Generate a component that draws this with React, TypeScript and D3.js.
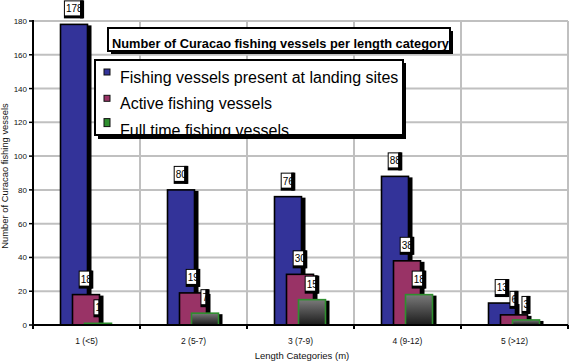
import * as d3 from "d3";
import * as React from "react";

// chart data
const categories = ["1 (<5)", "2 (5-7)", "3 (7-9)", "4 (9-12)", "5 (>12)"];
const presentValues = [178, 80, 76, 88, 13];
const activeValues = [18, 19, 30, 38, 6];
const fullTimeValues = [1, 7, 15, 18, 3];
const seriesNames = [
  "Fishing vessels present at landing sites",
  "Active fishing vessels",
  "Full time fishing vessels",
];
const yTicks = [0, 20, 40, 60, 80, 100, 120, 140, 160, 180];

const chartTitle = "Number of Curacao fishing vessels per length category";
const xTitle = "Length Categories (m)";
const yTitle = "Number of Curacao fishing vessels";

const W = 570;
const H = 362;
const left = 33;
const right = 568;
const top = 21;
const bottom = 325;
const barWidth = 27;
const font = "Arial, 'Liberation Sans', sans-serif";
const blue = "#333399";
const maroon = "#993366";
const green = "#2f8f2f";

export default function App() {
  const x = d3.scaleBand<string>().domain(categories).range([left, right]);
  const y = d3.scaleLinear().domain([0, 180]).range([bottom, top]);
  // sub positions of the three overlapping bars inside a category
  const sub = d3.scaleBand<string>().domain(seriesNames).range([-26, 10]);

  const series = [
    { name: seriesNames[0], values: presentValues, fill: blue, stroke: "#000" },
    { name: seriesNames[1], values: activeValues, fill: maroon, stroke: "#000" },
    { name: seriesNames[2], values: fullTimeValues, fill: "url(#ftGrad)", stroke: green },
  ];

  const barLeft = (cat: string, s: string) =>
    x(cat)! + x.bandwidth() / 2 + sub(s)!;

  const dividers = categories.map((c) => x(c)! + x.bandwidth());

  return (
    <svg
      width={W}
      height={H}
      style={{ position: "absolute", left: 0, top: 0, background: "#fff" }}
      fontFamily={font}
    >
      <defs>
        <linearGradient id="ftGrad" x1="0" y1="0" x2="0" y2="1">
          <stop offset="0" stopColor="#7a7a7a" />
          <stop offset="1" stopColor="#1c1c1c" />
        </linearGradient>
        <clipPath id="legendClip">
          <rect x={96} y={61} width={307} height={73} />
        </clipPath>
      </defs>

      {/* gridlines */}
      {yTicks.map((t) => (
        <line key={"h" + t} x1={left} x2={right} y1={y(t)} y2={y(t)} stroke="#c0c0c0" strokeWidth={2} />
      ))}
      {dividers.map((d, i) => (
        <line key={"v" + i} x1={d} x2={d} y1={top} y2={bottom} stroke="#c0c0c0" strokeWidth={2} />
      ))}

      {/* bars */}
      {series.map((s) =>
        categories.map((c, i) => {
          const bx = barLeft(c, s.name);
          const by = y(s.values[i]);
          const h = bottom - by;
          return (
            <g key={s.name + c}>
              <rect x={bx + 4} y={by + 1} width={barWidth} height={Math.max(0, h - 1)} fill="#000" />
              <rect x={bx} y={by} width={barWidth} height={h} fill={s.fill} stroke={s.stroke} strokeWidth={1.6} />
            </g>
          );
        })
      )}

      {/* axes */}
      <line x1={left} x2={left} y1={top - 1} y2={bottom + 1} stroke="#000" strokeWidth={2} />
      <line x1={left - 1} x2={right} y1={bottom} y2={bottom} stroke="#000" strokeWidth={2} />
      {yTicks.map((t) => (
        <g key={"yt" + t}>
          <line x1={left - 4} x2={left} y1={y(t)} y2={y(t)} stroke="#000" strokeWidth={1.5} />
          <text x={27} y={y(t) + 3} fontSize={8} textAnchor="end" fill="#111">
            {t}
          </text>
        </g>
      ))}
      {[left, ...dividers].map((d, i) => (
        <line key={"xt" + i} x1={d} x2={d} y1={bottom} y2={bottom + 4} stroke="#000" strokeWidth={2} />
      ))}
      {categories.map((c) => (
        <text key={"xl" + c} x={x(c)! + x.bandwidth() / 2} y={344} fontSize={8.5} textAnchor="middle" fill="#111">
          {c}
        </text>
      ))}
      <text x={302} y={358.5} fontSize={9.5} textAnchor="middle" fill="#111">
        {xTitle}
      </text>
      <text
        transform={`translate(8, ${(top + bottom) / 2 + 3}) rotate(-90)`}
        fontSize={9.4}
        textAnchor="middle"
        fill="#111"
      >
        {yTitle}
      </text>

      {/* data labels */}
      {series.map((s) =>
        categories.map((c, i) => {
          const v = s.values[i];
          const txt = String(v);
          const bw = txt.length * 5.56 - 1.5;
          const bh = 14;
          const lx = barLeft(c, s.name) + 12 - bw / 2;
          const ly = y(v) - 23;
          return (
            <g key={"lb" + s.name + c}>
              <rect x={lx - 1} y={ly - 1} width={bw + 5} height={bh + 4} fill="#000" />
              <rect x={lx} y={ly} width={bw} height={bh} fill="#fff" />
              <text x={lx + 1} y={ly + 11} fontSize={10} fill="#000">
                {txt}
              </text>
              <rect x={lx + bw} y={ly - 1} width={3} height={bh + 4} fill="#000" />
            </g>
          );
        })
      )}

      {/* title box */}
      <rect x={111} y={31} width={342} height={23} fill="#000" />
      <rect x={108} y={28} width={342} height={23} fill="#fff" stroke="#000" strokeWidth={2} />
      <text x={112} y={47.5} fontSize={13} fontWeight="bold" textLength={337} lengthAdjust="spacingAndGlyphs" fill="#000">
        {chartTitle}
      </text>

      {/* legend */}
      <rect x={98} y={63} width={308} height={76} fill="#000" />
      <rect x={95} y={60} width={308} height={75} fill="#fff" stroke="#000" strokeWidth={2} />
      <g clipPath="url(#legendClip)">
        {series.map((s, i) => {
          const base = 83 + i * 26.3;
          return (
            <g key={"lg" + s.name}>
              <rect
                x={104}
                y={base - 14 - (i === 2 ? 3 : 0)}
                width={6}
                height={i === 2 ? 8 : 6}
                fill={i === 2 ? green : s.fill}
                stroke="#111"
                strokeWidth={1}
              />
              <text x={120} y={base} fontSize={16} fill="#000">
                {s.name}
              </text>
            </g>
          );
        })}
      </g>
    </svg>
  );
}
